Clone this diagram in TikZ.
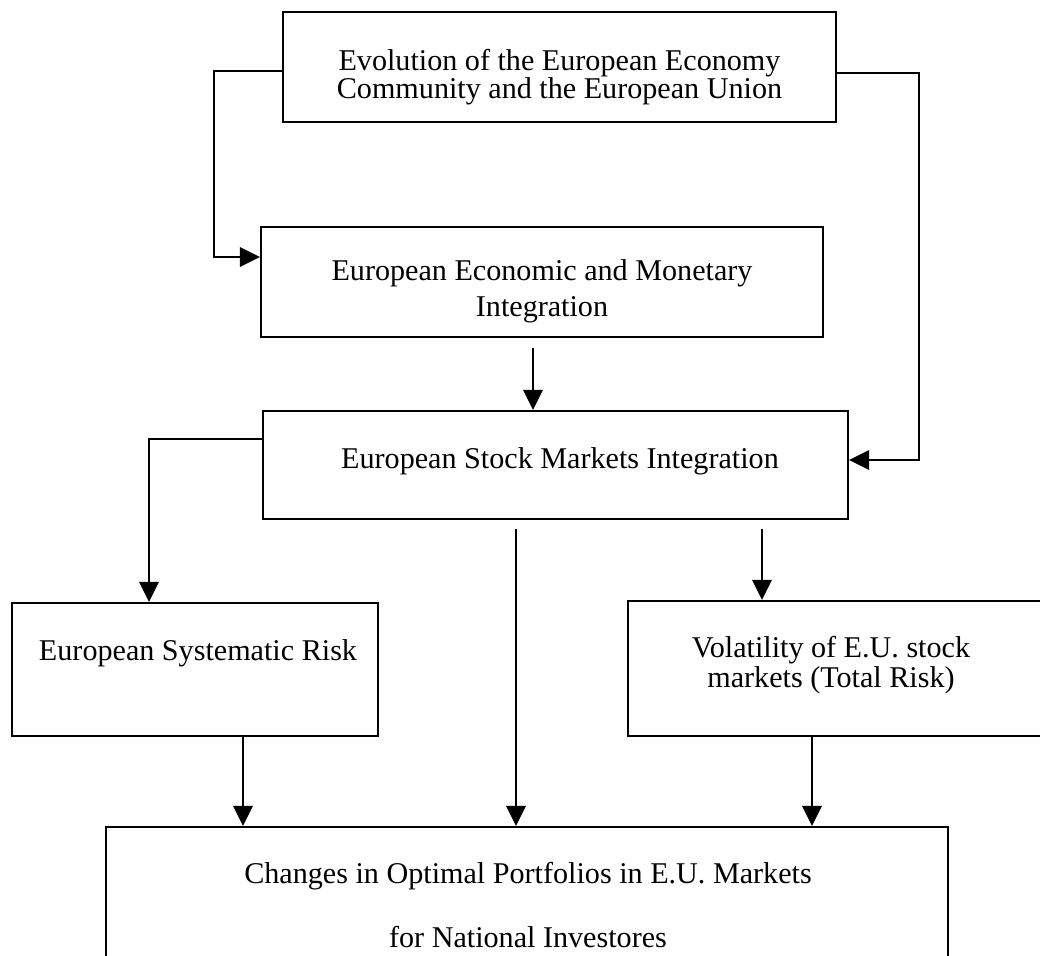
\documentclass[tikz,border=0pt]{standalone}
\usepackage{fontspec}
\setmainfont{Liberation Serif}
\usetikzlibrary{arrows.meta,calc}
\begin{document}
\begin{tikzpicture}[x=0.75pt,y=-0.75pt,
  box/.style={draw, line width=1.6pt, inner sep=0pt},
  txt/.style={inner sep=0pt, align=center, font=\fontsize{22.6}{27}\selectfont},
  arr/.style={line width=1.4pt, -{Triangle[length=15pt,width=14.5pt]}}]
\useasboundingbox (0,0) rectangle (1040,956);
% boxes
\node[box, minimum width=414.75pt, minimum height=82.5pt] (b1) at (559.5,67) {};
\node[box, minimum width=421.5pt, minimum height=82.5pt] (b2) at (542,282) {};
\node[box, minimum width=438.75pt, minimum height=81pt] (b3) at (555.5,465) {};
\node[box, minimum width=274.5pt, minimum height=99.75pt] (b4) at (195,669.5) {};
\node[box, minimum width=315pt, minimum height=101.25pt] (b5) at (838,668.5) {};
\node[box, minimum width=631.5pt, minimum height=103.5pt] (b6) at (527,896) {};
% texts
\node[txt] (t1) at (559.5,77) {Evolution of the European Economy\\[-6pt] Community and the European Union};
\node[txt] (t2) at (542,291) {European Economic and Monetary\\ Integration};
\node[txt] (t3) at (560,461) {European Stock Markets Integration};
\node[txt] (t4) at (198,653) {European Systematic Risk};
\node[txt] (t5) at (831,665) {Volatility of E.U. stock\\[-4pt] markets (Total Risk)};
\node[txt] (t6) at (528,905) {Changes in Optimal Portfolios in E.U. Markets\\[21pt] for National Investores};
% connectors
\draw[arr] ($(b1.west)+(0,4)$) -| ($(b2.west)+(-46,-25)$) -- ($(b2.west)+(0,-25)$);
\draw[arr] ($(b1.east)+(0,6)$) -| ($(b3.east)+(70,-5)$) -- ($(b3.east)+(0,-5)$);
\draw[arr] ($(b2.south)+(-9,10)$) -- ($(b3.north)+(-22.5,0)$);
\draw[arr] ($(b3.west)+(0,-26)$) -| ($(b4.north)+(-46,0)$);
\draw[arr] ($(b3.south)+(206.5,9)$) -- ($(b5.north)+(-76,0)$);
\draw[arr] ($(b3.south)+(-39.5,9)$) -- ($(b6.north)+(-11,0)$);
\draw[arr] ($(b4.south)+(48,0)$) -- ($(b6.north)+(-284,0)$);
\draw[arr] ($(b5.south)+(-26,0)$) -- ($(b6.north)+(285,0)$);
\end{tikzpicture}
\end{document}
